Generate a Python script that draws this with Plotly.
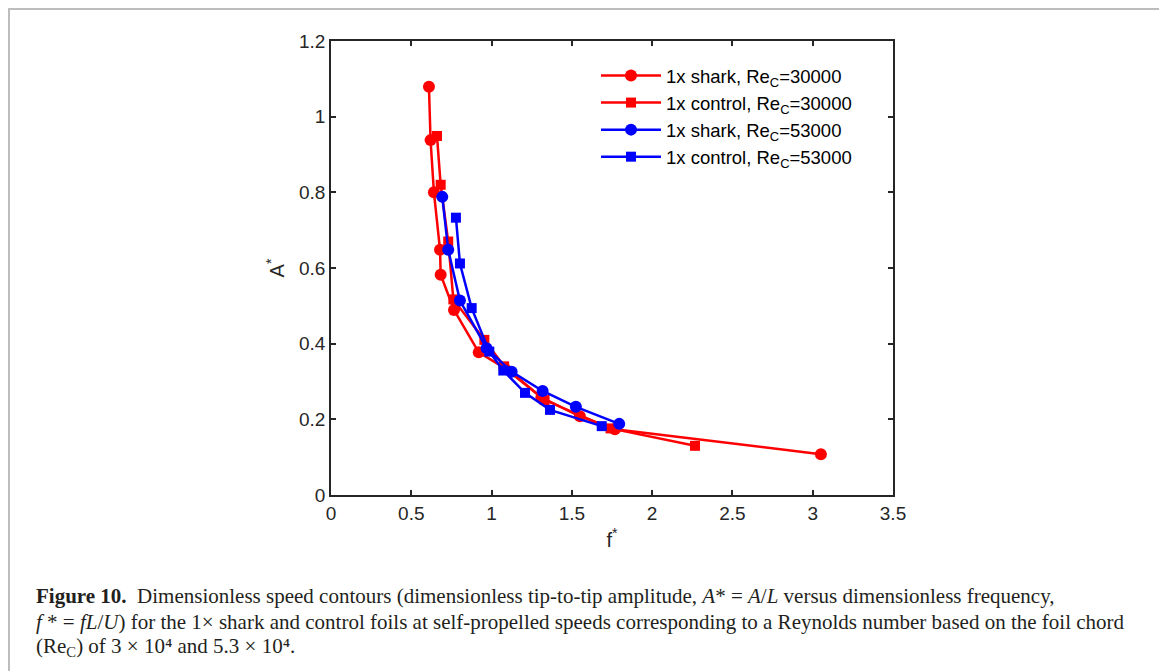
import plotly.graph_objects as go

# ---- data ----
red_shark_f = [0.61, 0.62, 0.641, 0.679, 0.683, 0.766, 0.92, 1.08, 1.31, 1.55, 1.768, 3.051]
red_shark_A = [1.079, 0.938, 0.800, 0.648, 0.582, 0.489, 0.377, 0.336, 0.258, 0.208, 0.174, 0.108]

red_ctrl_f = [0.66, 0.683, 0.73, 0.762, 0.955, 1.078, 1.33, 1.741, 2.267]
red_ctrl_A = [0.949, 0.820, 0.670, 0.517, 0.410, 0.340, 0.251, 0.176, 0.130]

blue_shark_f = [0.693, 0.73, 0.803, 0.969, 1.125, 1.318, 1.525, 1.795]
blue_shark_A = [0.788, 0.648, 0.514, 0.388, 0.326, 0.275, 0.233, 0.188]

blue_ctrl_f = [0.778, 0.803, 0.876, 0.986, 1.073, 1.208, 1.364, 1.686]
blue_ctrl_A = [0.733, 0.612, 0.494, 0.379, 0.329, 0.270, 0.225, 0.182]

x_ticks = [0, 0.5, 1, 1.5, 2, 2.5, 3, 3.5]
y_ticks = [0, 0.2, 0.4, 0.6, 0.8, 1.0, 1.2]

series = [
    ("1x shark, Re<sub>C</sub>=30000", red_shark_f, red_shark_A, "#ff0000", "circle", 12),
    ("1x control, Re<sub>C</sub>=30000", red_ctrl_f, red_ctrl_A, "#ff0000", "square", 10),
    ("1x shark, Re<sub>C</sub>=53000", blue_shark_f, blue_shark_A, "#0000ff", "circle", 12),
    ("1x control, Re<sub>C</sub>=53000", blue_ctrl_f, blue_ctrl_A, "#0000ff", "square", 10),
]

# page coordinates (the html body adds an 8px offset)
OFF = 8
PW, PH = 1167, 671
L, R, T, B = 331, 893, 41, 495
pw, ph = R - L, B - T
W, H = PW - OFF, PH - OFF

def px(xp):
    return (xp - L) / pw

def py(yp):
    return (B - yp) / ph

fig = go.Figure()
for name, xs, ys, col, sym, sz in series:
    fig.add_trace(go.Scatter(
        x=xs, y=ys, mode="lines+markers", name=name,
        line=dict(color=col, width=2.5),
        marker=dict(color=col, symbol=sym, size=sz, line=dict(width=0)),
    ))

axis_common = dict(
    showgrid=False, zeroline=False, showline=True, linecolor="#262626", linewidth=1.6,
    mirror="ticks", ticks="inside", ticklen=5, tickcolor="#262626", tickwidth=1.5,
    tickfont=dict(family="Liberation Sans, Arial", size=19, color="#262626"),
)

title_font = dict(family="Liberation Sans, Arial", size=20, color="#262626")

fig.update_layout(
    width=W, height=H,
    margin=dict(l=L - OFF, r=PW - R, t=T - OFF, b=PH - B),
    paper_bgcolor="white", plot_bgcolor="white",
    xaxis=dict(range=[0, 3.5], tickvals=x_ticks, ticktext=[f"{v:g}" for v in x_ticks],
               title=dict(text="f<sup>*</sup>", font=title_font, standoff=10),
               **axis_common),
    yaxis=dict(range=[0, 1.2], tickvals=y_ticks, ticktext=[f"{v:g}" for v in y_ticks],
               title=dict(text="A<sup>*</sup>", font=title_font, standoff=9),
               **axis_common),
    legend=dict(x=px(596), y=py(57), xanchor="left", yanchor="top",
                bgcolor="rgba(255,255,255,0)", borderwidth=0,
                font=dict(family="Liberation Sans, Arial", size=18.5, color="black"),
                itemwidth=60, tracegroupgap=0),
    showlegend=True,
)

# light gray frame around the figure panel
fig.add_shape(type="rect", xref="paper", yref="paper",
              x0=px(9), x1=px(1162), y0=py(700), y1=py(9),
              line=dict(color="#bdbdbd", width=2), fillcolor="rgba(0,0,0,0)", layer="below")

cap_font = dict(family="Liberation Serif, Times New Roman, serif", size=21, color="#231f20")
caption = [
    (596, "<b>Figure 10.</b>  Dimensionless speed contours (dimensionless tip-to-tip amplitude, <i>A</i>* = <i>A</i>/<i>L</i> versus dimensionless frequency,"),
    (622, "<i>f</i> * = <i>fL</i>/<i>U</i>) for the 1× shark and control foils at self-propelled speeds corresponding to a Reynolds number based on the foil chord"),
    (647, "(Re<sub>C</sub>) of 3 × 10⁴ and 5.3 × 10⁴."),
]
for yp, txt in caption:
    fig.add_annotation(text=txt, xref="paper", yref="paper", x=px(34), y=py(yp),
                       xanchor="left", yanchor="middle", showarrow=False, font=cap_font)

fig.write_html("out.html")
